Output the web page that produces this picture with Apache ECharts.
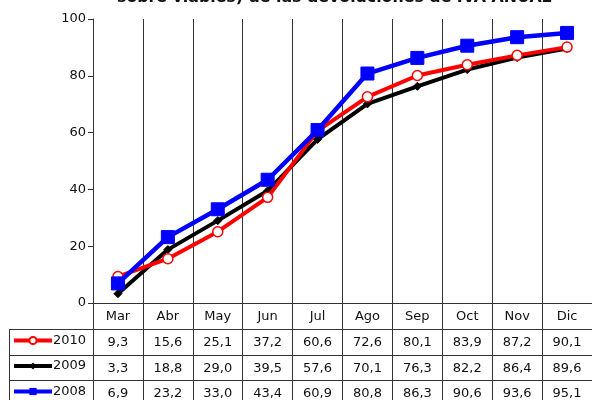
<!DOCTYPE html>
<html>
<head>
<meta charset="utf-8">
<script src="https://cdn.jsdelivr.net/npm/echarts@6/dist/echarts.min.js"></script>
<style>
  html, body { margin: 0; padding: 0; background: #fff; }
  #chart { width: 592px; height: 400px; }
</style>
</head>
<body>
<div id="chart"></div>
<script>
// Monthly cumulative percentages per year
const months = ['Mar', 'Abr', 'May', 'Jun', 'Jul', 'Ago', 'Sep', 'Oct', 'Nov', 'Dic'];
const v2010 = [9.3, 15.6, 25.1, 37.2, 60.6, 72.6, 80.1, 83.9, 87.2, 90.1];
const v2009 = [3.3, 18.8, 29.0, 39.5, 57.6, 70.1, 76.3, 82.2, 86.4, 89.6];
const v2008 = [6.9, 23.2, 33.0, 43.4, 60.9, 80.8, 86.3, 90.6, 93.6, 95.1];
const yTicks = [0, 20, 40, 60, 80, 100];
const years = ['2010', '2009', '2008'];
const titleText = 'sobre viables) de las devoluciones de IVA ANUAL';

const FONT = 'DejaVu Sans';
const LINE = '#333';
const fmt = v => v.toFixed(1).replace('.', ',');

// One bottom axis per table row: month names, then each year's values
function tableAxis(offset, formatter) {
  return {
    type: 'category',
    data: months,
    position: 'bottom',
    offset: offset,
    boundaryGap: true,
    axisLine: { show: true, lineStyle: { color: LINE, width: 1 } },
    axisTick: { show: true, inside: false, length: 26, interval: 0, lineStyle: { color: LINE, width: 1 } },
    axisLabel: { interval: 0, margin: 7, fontFamily: FONT, fontSize: 13, color: '#111', formatter: formatter },
    splitLine: { show: false }
  };
}

const xAxes = [
  tableAxis(0, v => v),
  tableAxis(26, (v, i) => fmt(v2010[i])),
  tableAxis(52, (v, i) => fmt(v2009[i])),
  tableAxis(77, (v, i) => fmt(v2008[i]))
];
xAxes[0].splitLine = { show: true, interval: 0, lineStyle: { color: LINE, width: 1 } };

// One legend per table row, so each key sits in its own row header cell
const legendTops = [334, 359.5, 385];
const legends = years.map((y, i) => ({
  orient: 'horizontal',
  left: 12,
  top: legendTops[i],
  padding: 0,
  itemWidth: 38,
  itemHeight: 9,
  data: [y],
  lineStyle: { width: 4 },
  textStyle: { fontFamily: FONT, fontSize: 13, color: '#111', padding: [0, 0, 0, -4] }
}));

const chart = echarts.init(document.getElementById('chart'), null, { renderer: 'canvas' });

chart.setOption({
  animation: false,
  backgroundColor: '#fff',
  title: {
    text: titleText,
    left: 117,
    top: -10,
    padding: 0,
    textStyle: { fontFamily: FONT, fontSize: 15.8, fontWeight: 'bold', color: '#111' }
  },
  grid: { left: 93, top: 19, width: 506, height: 284, containLabel: false },
  legend: legends,
  xAxis: xAxes,
  yAxis: {
    type: 'value',
    min: yTicks[0],
    max: yTicks[yTicks.length - 1],
    interval: 20,
    axisLine: { show: true, lineStyle: { color: LINE, width: 1 } },
    axisTick: { show: true, length: 5, lineStyle: { color: LINE } },
    axisLabel: { margin: 7, fontFamily: FONT, fontSize: 13, color: '#111' },
    splitLine: { show: false }
  },
  graphic: [
    // row header cell borders of the data table
    { type: 'line', shape: { x1: 9, y1: 329.5, x2: 93, y2: 329.5 }, style: { stroke: LINE, lineWidth: 1 } },
    { type: 'line', shape: { x1: 9, y1: 355.5, x2: 93, y2: 355.5 }, style: { stroke: LINE, lineWidth: 1 } },
    { type: 'line', shape: { x1: 9, y1: 380.5, x2: 93, y2: 380.5 }, style: { stroke: LINE, lineWidth: 1 } },
    { type: 'line', shape: { x1: 9.5, y1: 329, x2: 9.5, y2: 400 }, style: { stroke: LINE, lineWidth: 1 } }
  ],
  series: [
    {
      name: '2009', type: 'line', data: v2009, xAxisIndex: 0,
      symbol: 'diamond', symbolSize: 8,
      lineStyle: { color: '#000', width: 4 },
      itemStyle: { color: '#000', borderColor: '#000' },
      z: 2
    },
    {
      name: '2010', type: 'line', data: v2010, xAxisIndex: 0,
      symbol: 'circle', symbolSize: 10,
      lineStyle: { color: '#ff0000', width: 4 },
      itemStyle: { color: '#fff', borderColor: '#ff0000', borderWidth: 1.5 },
      z: 3
    },
    {
      name: '2008', type: 'line', data: v2008, xAxisIndex: 0,
      symbol: 'rect', symbolSize: 13,
      lineStyle: { color: '#0000ff', width: 4.5 },
      itemStyle: { color: '#0000ff', borderColor: '#0000ff' },
      z: 4
    }
  ]
});
</script>
</body>
</html>
